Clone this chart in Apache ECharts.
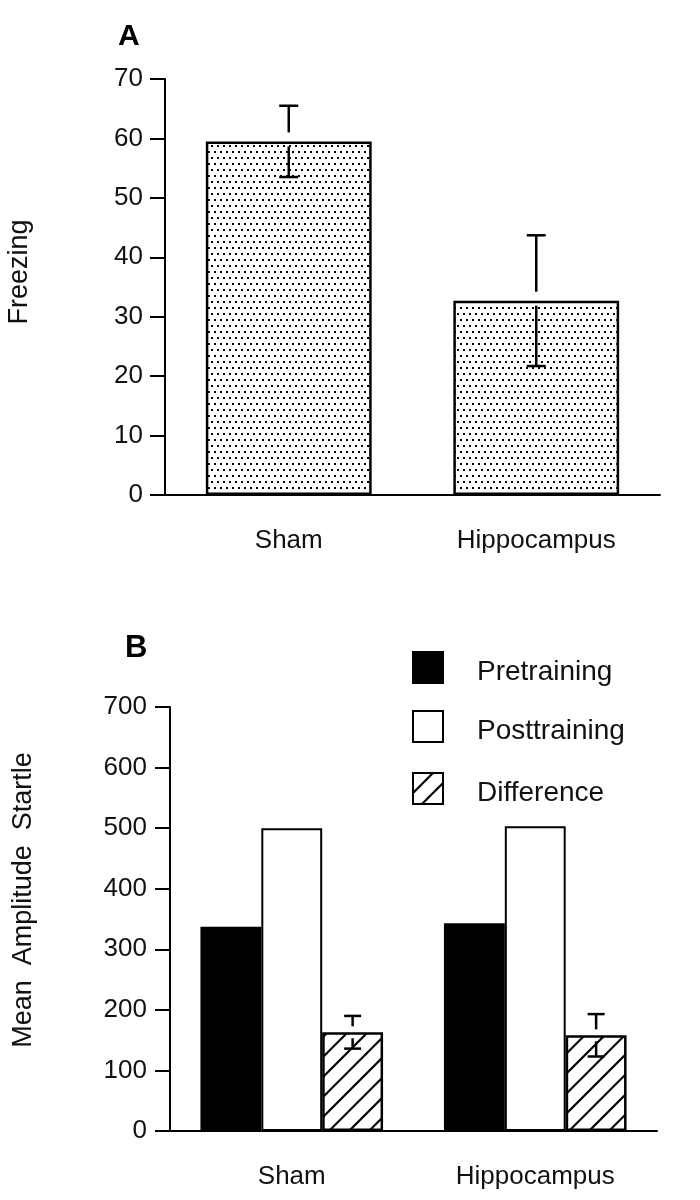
<!DOCTYPE html>
<html>
<head>
<meta charset="utf-8">
<script src="https://cdn.jsdelivr.net/npm/echarts@6/dist/echarts.min.js"></script>
<style>
html,body{margin:0;padding:0;background:#fff;}
#chart{width:700px;height:1200px;}
</style>
</head>
<body>
<div id="chart"></div>
<script>
// ---- data ----
const categories = ['Sham', 'Hippocampus'];
const freezing = [59.5, 32.7];
const freezingErr = [6, 11];
const seriesNames = ['Pretraining', 'Posttraining', 'Difference'];
const pretraining = [337, 343];
const posttraining = [500, 503];
const difference = [163, 158];
const differenceErr = [27, 35];

// ---- patterns ----
function dotPattern() {
  const c = document.createElement('canvas');
  c.width = 6; c.height = 12;
  const g = c.getContext('2d');
  g.fillStyle = '#fff'; g.fillRect(0, 0, 6, 12);
  g.fillStyle = '#000';
  g.fillRect(1, 1, 2, 2);
  g.fillRect(4, 7, 2, 2);
  return c;
}
function hatchPattern() {
  const s = 20;
  const c = document.createElement('canvas');
  c.width = s; c.height = s;
  const g = c.getContext('2d');
  g.fillStyle = '#fff'; g.fillRect(0, 0, s, s);
  g.strokeStyle = '#000'; g.lineWidth = 2.2;
  g.beginPath();
  g.moveTo(0, s); g.lineTo(s, 0);
  g.moveTo(-s / 2, s / 2); g.lineTo(s / 2, -s / 2);
  g.moveTo(s / 2, s + s / 2); g.lineTo(s + s / 2, s / 2);
  g.stroke();
  return c;
}
const dotFill = { image: dotPattern(), repeat: 'repeat' };
const hatchFill = { image: hatchPattern(), repeat: 'repeat' };

const FONT = 'Liberation Sans, Arial, Helvetica, sans-serif';
const TXT = '#111';

function errRender(offsetFrac, gapAbove, gapBelow, capW) {
  return function (params, api) {
    const idx = api.value(0), v = api.value(1), e = api.value(2);
    const band = api.size([1, 0])[0];
    const mid = api.coord([idx, v]);
    const x = mid[0] + offsetFrac * band;
    const yTop = api.coord([idx, v + e])[1];
    const yBot = api.coord([idx, v - e])[1];
    const st = { stroke: '#000', lineWidth: 2.5 };
    return {
      type: 'group',
      children: [
        { type: 'line', shape: { x1: x, y1: yTop, x2: x, y2: mid[1] - gapAbove }, style: st },
        { type: 'line', shape: { x1: x - capW / 2, y1: yTop, x2: x + capW / 2, y2: yTop }, style: st },
        { type: 'line', shape: { x1: x, y1: mid[1] + gapBelow, x2: x, y2: yBot }, style: st },
        { type: 'line', shape: { x1: x - capW / 2, y1: yBot, x2: x + capW / 2, y2: yBot }, style: st }
      ]
    };
  };
}

const axisCommon = {
  axisLine: { lineStyle: { color: '#000', width: 2 } },
  axisTick: { lineStyle: { color: '#000', width: 2 } },
  splitLine: { show: false }
};

const chart = echarts.init(document.getElementById('chart'), null, { renderer: 'canvas' });

const legendTop = [652, 711, 773];
const legendFills = ['#000', '#fff', hatchFill];
const legendGraphics = [];
seriesNames.forEach(function (n, i) {
  legendGraphics.push({
    type: 'rect', x: 413, y: legendTop[i],
    shape: { width: 30, height: 31 },
    style: { fill: legendFills[i], stroke: '#000', lineWidth: 2 }
  });
  legendGraphics.push({
    type: 'text', x: 477, y: legendTop[i] + 20,
    style: { text: n, fontSize: 28, fontFamily: FONT, fill: TXT, align: 'left', verticalAlign: 'middle' }
  });
});

const option = {
  backgroundColor: '#fff',
  animation: false,
  title: [
    { text: 'A', left: 113, top: 17, textStyle: { fontSize: 30, fontWeight: 'bold', fontFamily: FONT, color: '#000' } },
    { text: 'B', left: 120, top: 628, textStyle: { fontSize: 31, fontWeight: 'bold', fontFamily: FONT, color: '#000' } }
  ],
  grid: [
    { left: 165, right: 40, top: 79, bottom: 705, containLabel: false },
    { left: 170, right: 43, top: 707, bottom: 69, containLabel: false }
  ],
  xAxis: [
    Object.assign({}, axisCommon, {
      type: 'category', gridIndex: 0, data: categories,
      axisTick: { alignWithLabel: true, length: 14, lineStyle: { color: '#000', width: 2 } },
      axisLabel: { margin: 33, fontSize: 26, fontFamily: FONT, color: TXT }
    }),
    Object.assign({}, axisCommon, {
      type: 'category', gridIndex: 1, data: categories,
      axisTick: { alignWithLabel: true, length: 14, lineStyle: { color: '#000', width: 2 } },
      axisLabel: { margin: 33, fontSize: 26, fontFamily: FONT, color: TXT }
    })
  ],
  yAxis: [
    Object.assign({}, axisCommon, {
      type: 'value', gridIndex: 0, min: 0, max: 70, interval: 10,
      axisLine: { show: true, lineStyle: { color: '#000', width: 2 } },
      axisTick: { show: true, length: 15, lineStyle: { color: '#000', width: 2 } },
      axisLabel: { margin: 22, fontSize: 26, fontFamily: FONT, color: TXT }
    }),
    Object.assign({}, axisCommon, {
      type: 'value', gridIndex: 1, min: 0, max: 700, interval: 100,
      axisLine: { show: true, lineStyle: { color: '#000', width: 2 } },
      axisTick: { show: true, length: 15, lineStyle: { color: '#000', width: 2 } },
      axisLabel: { margin: 23, fontSize: 26, fontFamily: FONT, color: TXT }
    })
  ],
  graphic: [
    { type: 'text', x: 20, y: 272, rotation: Math.PI / 2,
      style: { text: 'Freezing', fontSize: 27, fontFamily: FONT, fill: TXT, align: 'center', verticalAlign: 'middle' } },
    { type: 'text', x: 24, y: 900, rotation: Math.PI / 2,
      style: { text: 'Mean  Amplitude  Startle', fontSize: 27, fontFamily: FONT, fill: TXT, align: 'center', verticalAlign: 'middle' } }
  ].concat(legendGraphics),
  series: [
    {
      type: 'bar', name: 'Freezing', xAxisIndex: 0, yAxisIndex: 0,
      data: freezing, barWidth: '67%',
      itemStyle: { color: dotFill, borderColor: '#000', borderWidth: 2.5 }
    },
    {
      type: 'custom', xAxisIndex: 0, yAxisIndex: 0, z: 5,
      renderItem: errRender(0, 9, 5, 19),
      encode: { x: 0, y: 1 },
      data: freezing.map(function (v, i) { return [i, v, freezingErr[i]]; })
    },
    {
      type: 'bar', name: seriesNames[0], xAxisIndex: 1, yAxisIndex: 1,
      data: pretraining, barGap: '0%', barCategoryGap: '25%',
      itemStyle: { color: '#000', borderColor: '#000', borderWidth: 2 }
    },
    {
      type: 'bar', name: seriesNames[1], xAxisIndex: 1, yAxisIndex: 1,
      data: posttraining, barGap: '0%', barCategoryGap: '25%',
      itemStyle: { color: '#fff', borderColor: '#000', borderWidth: 2 }
    },
    {
      type: 'bar', name: seriesNames[2], xAxisIndex: 1, yAxisIndex: 1,
      data: difference, barGap: '0%', barCategoryGap: '25%',
      itemStyle: { color: hatchFill, borderColor: '#000', borderWidth: 2.5 }
    },
    {
      type: 'custom', xAxisIndex: 1, yAxisIndex: 1, z: 5,
      renderItem: errRender(0.25, 6, 6, 17),
      encode: { x: 0, y: 1 },
      data: difference.map(function (v, i) { return [i, v, differenceErr[i]]; })
    }
  ]
};
chart.setOption(option);
</script>
</body>
</html>
